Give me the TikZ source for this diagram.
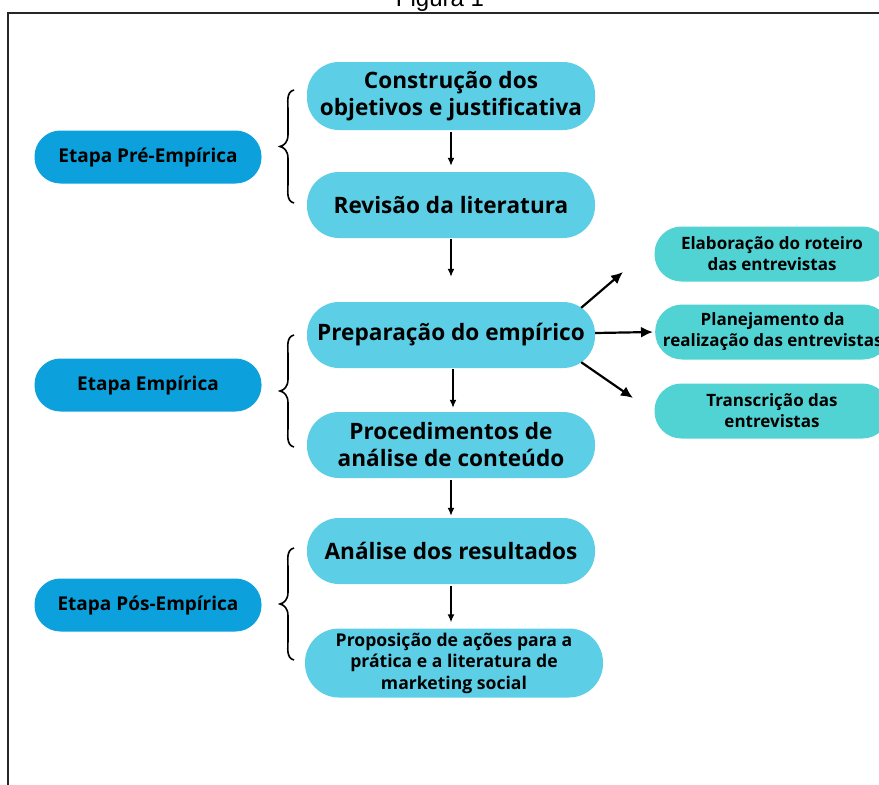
\documentclass[tikz,border=0pt]{standalone}
\usepackage{fontspec}
\setmainfont{Open Sans}
\newfontfamily\arialfont{Liberation Sans}
\usetikzlibrary{arrows.meta}
\definecolor{mainblue}{HTML}{5CCFE6}
\definecolor{darkblue}{HTML}{0CA1DC}
\definecolor{tealbox}{HTML}{52D3D3}
\begin{document}
\begin{tikzpicture}[x=1pt,y=-1pt,
  mainbox/.style={fill=mainblue, rounded corners=32pt, minimum width=288pt, minimum height=66pt, align=center, font=\fontsize{22.6}{27}\selectfont\bfseries, inner sep=0pt},
  etapa/.style={fill=darkblue, rounded corners=26pt, minimum width=227pt, minimum height=53pt, align=center, font=\fontsize{19}{22}\selectfont\bfseries, inner sep=0pt},
  sidebox/.style={fill=tealbox, rounded corners=27pt, minimum width=235pt, minimum height=55pt, align=center, font=\fontsize{17}{21}\selectfont\bfseries, inner sep=0pt},
  arr/.style={-{Latex[length=12pt,width=11pt]}, line width=2.2pt},
  varr/.style={-{Latex[length=8pt,width=7pt]}, line width=1.4pt},
  brace/.style={line width=1.6pt}]
\useasboundingbox (0,0) rectangle (879,785);
\clip (0,0) rectangle (879,785);
\fill[white] (0,0) rectangle (879,785);
\node[font=\arialfont\fontsize{24}{28}\selectfont, anchor=base] (title) at (440,6) {Figura 1};
\draw[line width=1.8pt, draw=black!85] (8,800) -- (8,13) -- (900,13);
% main boxes
\node[mainbox, minimum height=68pt] (b1) at (451,96) {Construção dos\\objetivos e justificativa};
\node[mainbox] (b2) at (451,205) {Revisão da literatura};
\node[mainbox] (b3) at (451,335) {Preparação do empírico};
\node[mainbox] (b4) at (451,445) {Procedimentos de\\análise de conteúdo};
\node[mainbox] (b5) at (451,551) {Análise dos resultados};
\node[mainbox, minimum width=298pt, minimum height=69pt, rounded corners=34pt, font=\fontsize{17.6}{21.5}\selectfont\bfseries] (b6) at (454,663) {Proposição de ações para a\\prática e a literatura de\\marketing social};
% etapas
\node[etapa] (e1) at (148,157) {Etapa Pré-Empírica};
\node[etapa] (e2) at (148,385) {Etapa Empírica};
\node[etapa] (e3) at (148,605) {Etapa Pós-Empírica};
% side boxes
\node[sidebox] (s1) at (772,254) {Elaboração do roteiro\\das entrevistas};
\node[sidebox, anchor=west] (s2) at (655,332) {Planejamento da\\realização das entrevistas};
\node[sidebox] (s3) at (772,411) {Transcrição das\\entrevistas};
% vertical arrows
\draw[varr] ([yshift=-2pt]b1.south) -- ([yshift=6pt]b2.north);
\draw[varr] ([yshift=-1pt]b2.south) -- ([yshift=25pt]b3.north);
\draw[varr] ([xshift=2pt,yshift=-1pt]b3.south) -- ([xshift=2pt,yshift=4pt]b4.north);
\draw[varr] ([yshift=-2pt]b4.south) -- ([yshift=2pt]b5.north);
\draw[varr] ([yshift=-2pt]b5.south) -- ([yshift=6pt]b5.south |- b6.north);
% side arrows
\coordinate (a1) at (623,272);
\coordinate (a3) at (633,398);
\draw[arr] ([xshift=-14pt,yshift=-6pt]b3.north east) -- (a1);
\draw[arr] ([yshift=2pt]b3.east) -- ([xshift=-2pt]s2.west);
\draw[arr] ([xshift=-14pt,yshift=6pt]b3.south east) -- (a3);
% braces
\foreach \yt/\yb in {90/203, 335/447, 548/660}{
  \pgfmathsetmacro{\ym}{(\yt+\yb)/2}
  \draw[brace] (294,\yt) .. controls (286,\yt+2) and (288,\yt+12) .. (288,\yt+20)
     -- (288,\ym-12) .. controls (288,\ym-4) and (284,\ym-1) .. (280,\ym)
     .. controls (284,\ym+1) and (288,\ym+4) .. (288,\ym+12)
     -- (288,\yb-20) .. controls (288,\yb-12) and (286,\yb-2) .. (294,\yb);
}
\end{tikzpicture}
\end{document}
